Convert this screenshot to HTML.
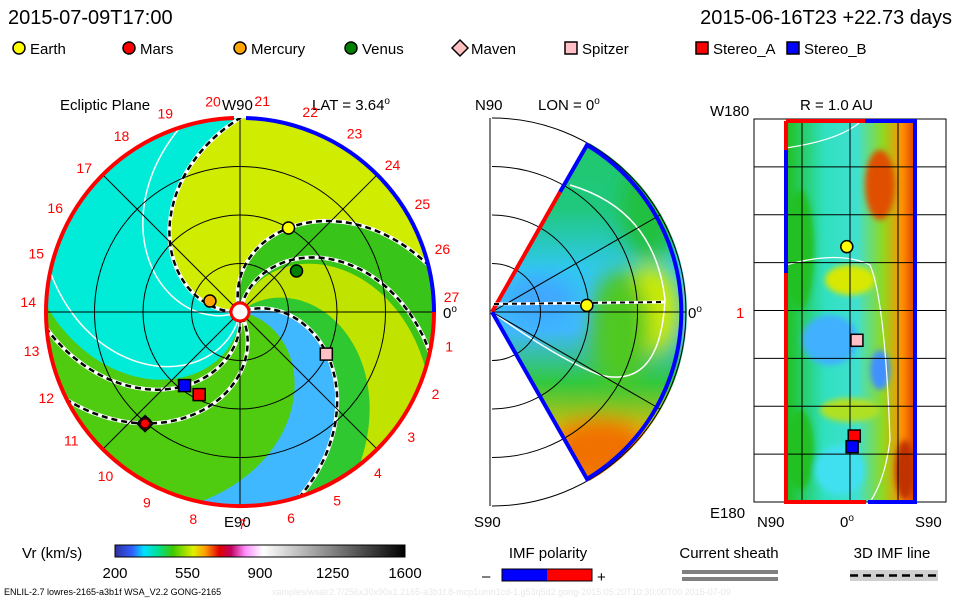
<!DOCTYPE html>
<html><head><meta charset="utf-8"><style>
body{margin:0;background:#fff}
svg{display:block;font-family:"Liberation Sans",sans-serif}
</style></head><body>
<svg id="c" width="960" height="600" viewBox="0 0 960 600">
<defs>
<clipPath id="disk"><circle cx="240" cy="312" r="194"/></clipPath>
<clipPath id="wedge"><path d="M492,312 L589.5,143.1 A195,195 0 0 1 589.5,480.9 Z"/></clipPath>
<clipPath id="rect"><rect x="786" y="121" width="129" height="381"/></clipPath>
<filter id="bl" x="-50%" y="-50%" width="200%" height="200%"><feGaussianBlur stdDeviation="10"/></filter>
<filter id="bl2"><feGaussianBlur stdDeviation="3"/></filter>
<linearGradient id="cb" x1="0" x2="1">
<stop offset="0" stop-color="#3030a0"/><stop offset="0.06" stop-color="#3060ff"/><stop offset="0.1" stop-color="#00e0ff"/><stop offset="0.15" stop-color="#00e090"/><stop offset="0.2" stop-color="#40c800"/><stop offset="0.27" stop-color="#e0f000"/><stop offset="0.31" stop-color="#ffa000"/><stop offset="0.36" stop-color="#e00000"/><stop offset="0.4" stop-color="#c00060"/><stop offset="0.45" stop-color="#ff90ff"/><stop offset="0.51" stop-color="#ffffff"/><stop offset="1" stop-color="#000000"/>
</linearGradient>
<linearGradient id="rg" x1="0" x2="1">
<stop offset="0" stop-color="#20c020"/><stop offset="0.3" stop-color="#30e0c0"/><stop offset="0.55" stop-color="#40e0d0"/><stop offset="0.75" stop-color="#90d820"/><stop offset="0.9" stop-color="#ff9000"/><stop offset="1" stop-color="#e04000"/>
</linearGradient>
<linearGradient id="mg" x1="0" y1="0" x2="0" y2="1">
<stop offset="0" stop-color="#20c860"/><stop offset="0.25" stop-color="#20c880"/><stop offset="0.4" stop-color="#30c8f0"/><stop offset="0.55" stop-color="#40b8ff"/><stop offset="0.68" stop-color="#30c840"/><stop offset="0.82" stop-color="#f0c000"/><stop offset="1" stop-color="#f06000"/>
</linearGradient>
</defs>

<text x="8" y="24" font-size="20">2015-07-09T17:00</text>
<text x="952" y="24" font-size="20" text-anchor="end">2015-06-16T23 +22.73 days</text>

<g id="legend" font-size="15"></g>

<g>
<text x="60" y="110" font-size="15">Ecliptic Plane</text>
<text x="222" y="110" font-size="15">W90</text>
<text x="312" y="110" font-size="15">LAT = 3.64<tspan dy="-6" font-size="10">o</tspan></text>
<text x="224" y="527" font-size="15">E90</text>
<text x="443" y="318" font-size="15">0<tspan dy="-6" font-size="10">o</tspan></text>
<g clip-path="url(#disk)">
<rect x="40" y="110" width="400" height="400" fill="#48cc10"/>
<g id="bands"></g>
</g>
<g id="spirals" clip-path="url(#disk)"></g>
<g id="grid1" fill="none" stroke="#000" stroke-width="1"></g>
<path d="M46,312 A194,194 0 0 1 234,118" fill="none" stroke="#f00" stroke-width="4"/>
<path d="M246,118 A194,194 0 0 1 434,312" fill="none" stroke="#00f" stroke-width="4"/>
<path d="M434,312 A194,194 0 1 1 46,312" fill="none" stroke="#f00" stroke-width="4"/>
<g id="rimlabels" fill="#f00" font-size="14"></g>
<circle cx="240" cy="312" r="9" fill="#fff" stroke="#f00" stroke-width="3"/>
<g id="bodies1"></g>
</g>

<g>
<text x="475" y="110" font-size="15">N90</text>
<text x="538" y="110" font-size="15">LON = 0<tspan dy="-6" font-size="10">o</tspan></text>
<text x="474" y="527" font-size="15">S90</text>
<text x="688" y="318" font-size="15">0<tspan dy="-6" font-size="10">o</tspan></text>
<g clip-path="url(#wedge)">
<rect x="480" y="110" width="220" height="400" fill="url(#mg)"/>
<g filter="url(#bl)">
<ellipse cx="650" cy="310" rx="30" ry="45" fill="#d0ec00"/>
<ellipse cx="620" cy="330" rx="30" ry="60" fill="#50c820"/>
<ellipse cx="540" cy="300" rx="35" ry="25" fill="#40a8ff"/>
<ellipse cx="650" cy="210" rx="30" ry="50" fill="#20c040"/>
<ellipse cx="600" cy="450" rx="50" ry="30" fill="#f07000"/>
</g>
<path d="M492,312 Q560,360 600,375 Q660,390 665,300 Q655,210 570,185" fill="none" stroke="#fff" stroke-width="1.5"/>
</g>
<g id="grid2" fill="none" stroke="#000" stroke-width="1"></g>
<path d="M492,312 L560,192" stroke="#f00" stroke-width="4"/>
<path d="M560,192 L587,145 A195,195 0 0 1 587,479 L492,312" fill="none" stroke="#00f" stroke-width="4"/>
<line x1="494" y1="304" x2="665" y2="302" stroke="#fff" stroke-width="3"/>
<line x1="494" y1="304" x2="665" y2="302" stroke="#000" stroke-width="2" stroke-dasharray="5,4"/>
<g id="bodies2"></g>
</g>

<g>
<text x="800" y="110" font-size="15">R = 1.0 AU</text>
<text x="710" y="116" font-size="15">W180</text>
<text x="710" y="518" font-size="15">E180</text>
<text x="757" y="527" font-size="15">N90</text>
<text x="840" y="527" font-size="15">0<tspan dy="-6" font-size="10">o</tspan></text>
<text x="915" y="527" font-size="15">S90</text>
<text x="736" y="318" font-size="15" fill="#f00">1</text>
<g clip-path="url(#rect)">
<rect x="786" y="121" width="129" height="381" fill="url(#rg)"/>
<g filter="url(#bl2)">
<ellipse cx="880" cy="185" rx="15" ry="35" fill="#e05000"/>
<ellipse cx="850" cy="280" rx="25" ry="15" fill="#d8e800"/>
<ellipse cx="830" cy="340" rx="28" ry="25" fill="#40b0ff"/>
<ellipse cx="880" cy="370" rx="10" ry="20" fill="#4090ff"/>
<ellipse cx="850" cy="410" rx="30" ry="12" fill="#b0e020"/>
<ellipse cx="800" cy="250" rx="14" ry="60" fill="#20c020"/>
<ellipse cx="800" cy="450" rx="14" ry="40" fill="#20c020"/>
<ellipse cx="840" cy="470" rx="25" ry="25" fill="#40e0f0"/>
<ellipse cx="905" cy="470" rx="10" ry="30" fill="#c03000"/>
</g>
<path d="M786,265 Q840,250 870,265 Q885,300 890,440 Q885,480 870,502" fill="none" stroke="#fff" stroke-width="1.2"/>
<path d="M786,148 Q840,140 860,122" fill="none" stroke="#fff" stroke-width="1.2"/>
</g>
<g id="grid3" stroke="#000" stroke-width="1" fill="none"></g>
<path d="M786,121 L865,121" stroke="#f00" stroke-width="4"/>
<path d="M865,121 L915,121 L915,502 L868,502" fill="none" stroke="#00f" stroke-width="4"/>
<path d="M786,121 L786,150 M786,273 L786,502 L866,502" fill="none" stroke="#f00" stroke-width="4"/>
<path d="M786,150 L786,273" stroke="#00f" stroke-width="4"/>
<g id="bodies3"></g>
</g>

<g>
<text x="22" y="558" font-size="15">Vr (km/s)</text>
<rect x="115" y="545" width="290" height="12" fill="url(#cb)" stroke="#000"/>
<g id="cbticks" font-size="15" text-anchor="middle"></g>
</g>
<g>
<text x="548" y="558" font-size="15" text-anchor="middle">IMF polarity</text>
<rect x="502" y="569" width="45" height="12" fill="#00f"/><rect x="547" y="569" width="45" height="12" fill="#f00"/>
<rect x="502" y="569" width="90" height="12" fill="none" stroke="#000"/>
<text x="482" y="581" font-size="15">–</text><text x="597" y="582" font-size="15">+</text>
</g>
<g>
<text x="729" y="558" font-size="15" text-anchor="middle">Current sheath</text>
<rect x="682" y="570" width="96" height="4" fill="#808080"/><rect x="682" y="577" width="96" height="4" fill="#808080"/>
</g>
<g>
<text x="892" y="558" font-size="15" text-anchor="middle">3D IMF line</text>
<rect x="850" y="570" width="88" height="11" fill="#d0d0d0"/>
<line x1="850" y1="575.5" x2="938" y2="575.5" stroke="#000" stroke-width="2.5" stroke-dasharray="8,5"/>
</g>
<text x="4" y="595" font-size="9">ENLIL-2.7 lowres-2165-a3b1f WSA_V2.2 GONG-2165</text>
<text x="272" y="595" font-size="9" fill="#e8e8e8">xamples/wsalr2.7/256x30x90x1.2165-a3b1f.8-mcp1umn1cd-1.g53q5d2.gong-2015:05:20T10:30:00T00   2015-07-09</text>
</svg>
<script>
// ---- data ----
const bodyNames = ["Earth","Mars","Mercury","Venus","Maven","Spitzer","Stereo_A","Stereo_B"];
const bodyFill = ["#ffff00","#ff0000","#ffa500","#008000","#ffc0c0","#ffc0c8","#ff0000","#0000ff"];
const bodyShape = ["circle","circle","circle","circle","diamond","square","square","square"];
const bodyR = [1.0, 1.51, 0.33, 0.72, 1.51, 0.99, 0.95, 0.95];       // AU
const bodyLon = [60, 229.6, 160, 36, 229.6, -26, 243.7, 233];        // deg
const latPanelR = [0.98, null, null, null, null, null, null, null];
const latPanelLat = [4, null, null, null, null, null, null, null];
const mapLon = [240, null, null, null, null, 152, 62, 52];           // deg, E180(0) -> W180(360)
const mapLat = [-6, null, null, null, null, 13, 8, 4];
const bandStart = [-10, 20, 40, 75, 106, 182, 270];
const bandEnd   = [20, 40, 75, 106, 182, 270, 350];
const bandColor = ["#40b8ff","#30c830","#c0e400","#38c418","#d0ec00","#00ecd8","#50cc10"];
const dashedSpirals = [182, 106, 20, 277, 299, 80];
const whiteSpirals = [200, 260];
const rimLabels = [27,26,25,24,23,22,21,20,19,18,17,16,15,14,13,12,11,10,9,8,7,6,5,4,3,2,1];
const cbTicks = [200,550,900,1250,1600];

const NS="http://www.w3.org/2000/svg";
function mk(tag,attrs,parent){const e=document.createElementNS(NS,tag);for(const k in attrs)e.setAttribute(k,attrs[k]);parent.appendChild(e);return e;}
const CX=240,CY=312,SC=97;
const WIND=46;
const RMAX=2.1;
function px(r,deg){const a=deg*Math.PI/180;return [CX+r*SC*Math.cos(a),CY-r*SC*Math.sin(a)];}
function spiralPts(phi0,rev){const p=[];for(let i=0;i<=60;i++){const r=0.05+i*(RMAX-0.05)/60;p.push(px(r,phi0-WIND*r));}return rev?p.reverse():p;}

const bands=document.getElementById('bands');
for(let i=0;i<bandStart.length;i++){
  const a0=bandStart[i]-WIND*RMAX, a1=bandEnd[i]-WIND*RMAX;
  const arc=[];for(let j=1;j<30;j++){arc.push(px(RMAX+0.1,a0+(a1-a0)*j/30));}
  const pts=spiralPts(bandStart[i],false).concat(arc,spiralPts(bandEnd[i],true));
  const pg=mk('polygon',{points:pts.map(p=>p.map(v=>v.toFixed(1)).join(',')).join(' '),fill:bandColor[i]},bands);
  
  
}
const sp=document.getElementById('spirals');
dashedSpirals.forEach(f=>{
  const d='M'+spiralPts(f,false).map(p=>p.map(v=>v.toFixed(1)).join(',')).join(' L');
  mk('path',{d:d,fill:'none',stroke:'#fff','stroke-width':4},sp);
  const l=mk('path',{d:d,fill:'none',stroke:'#000','stroke-width':2.5,'stroke-dasharray':'6,4'},sp);
  
  
});
whiteSpirals.forEach(f=>{
  const d='M'+spiralPts(f,false).map(p=>p.map(v=>v.toFixed(1)).join(',')).join(' L');
  const l=mk('path',{d:d,fill:'none',stroke:'#fff','stroke-width':1.5},sp);
  
  
});
const g1=document.getElementById('grid1');
[0.5,1,1.5].forEach(r=>mk('circle',{cx:CX,cy:CY,r:r*SC},g1));
[0,45,90,135].forEach(a=>{const p=px(2,a),q=px(2,a+180);mk('line',{x1:p[0],y1:p[1],x2:q[0],y2:q[1]},g1);});
const rl=document.getElementById('rimlabels');
rimLabels.forEach((k,i)=>{const a=4+i*13.33;const p=[CX+212*Math.cos(a*Math.PI/180),CY-212*Math.sin(a*Math.PI/180)];
  const t=mk('text',{x:p[0].toFixed(1),y:(p[1]+5).toFixed(1),'text-anchor':'middle'},rl);t.textContent=k;
  
  });
function marker(parent,i,x,y){
  let e;
  if(bodyShape[i]==='circle') e=mk('circle',{cx:x,cy:y,r:6,fill:bodyFill[i],stroke:'#000','stroke-width':1.5},parent);
  else if(bodyShape[i]==='square') e=mk('rect',{x:x-6,y:y-6,width:12,height:12,fill:bodyFill[i],stroke:'#000','stroke-width':1.5},parent);
  else e=mk('polygon',{points:`${x},${y-8} ${x+8},${y} ${x},${y+8} ${x-8},${y}`,fill:'#ffc0c0',stroke:'#000','stroke-width':1.5},parent);
  
  
  return e;
}
const b1=document.getElementById('bodies1');
[4,0,1,2,3,5,7,6].forEach(i=>{const p=px(bodyR[i],bodyLon[i]);marker(b1,i,p[0],p[1]);
  if(i===1){const c=mk('circle',{cx:p[0],cy:p[1],r:4.5,fill:'#f00',stroke:'#000'},b1);}});
const g2=document.getElementById('grid2');
const MX=492;
[0.5,1,1.5,2].forEach(r=>mk('path',{d:`M${MX},${CY-r*SC} A${r*SC},${r*SC} 0 0 1 ${MX},${CY+r*SC}`},g2));
mk('line',{x1:490,y1:118,x2:490,y2:506},g2);
mk('line',{x1:MX,y1:CY,x2:MX+194,y2:CY},g2);
[30,-30].forEach(a=>{const r=a*Math.PI/180;mk('line',{x1:MX,y1:CY,x2:MX+194*Math.cos(r),y2:CY-194*Math.sin(r)},g2);});
const b2=document.getElementById('bodies2');
latPanelR.forEach((r,i)=>{if(r==null)return;const a=latPanelLat[i]*Math.PI/180;marker(b2,i,MX+r*SC*Math.cos(a),CY-r*SC*Math.sin(a));});
const g3=document.getElementById('grid3');
mk('rect',{x:754,y:119,width:192,height:383},g3);
for(let k=1;k<8;k++){const y=119+k*383/8;mk('line',{x1:754,y1:y,x2:946,y2:y},g3);}
[802,850,898].forEach(x=>mk('line',{x1:x,y1:119,x2:x,y2:502},g3));
const b3=document.getElementById('bodies3');
mapLon.forEach((lo,i)=>{if(lo==null)return;const x=850+mapLat[i]*96/180;const y=502-lo/360*383;marker(b3,i,x,y);});
const cbt=document.getElementById('cbticks');
cbTicks.forEach(v=>{const t=mk('text',{x:115+(v-200)/1400*290,y:578},cbt);t.textContent=v;
  
  });
const lg=document.getElementById('legend');
const legX=[19,129,240,351,460,571,702,793];
bodyNames.forEach((n,i)=>{const x=legX[i];
  if(bodyShape[i]==='circle') mk('circle',{cx:x,cy:48,r:6,fill:bodyFill[i],stroke:'#000','stroke-width':1.5},lg);
  else if(bodyShape[i]==='square') mk('rect',{x:x-6,y:42,width:12,height:12,fill:bodyFill[i],stroke:'#000','stroke-width':1.5},lg);
  else mk('polygon',{points:`${x},40 ${x+8},48 ${x},56 ${x-8},48`,fill:'#ffc0c0',stroke:'#000','stroke-width':1.5},lg);
  const t=mk('text',{x:x+11,y:54},lg);t.textContent=n;
  
  });
</script>
</body></html>
